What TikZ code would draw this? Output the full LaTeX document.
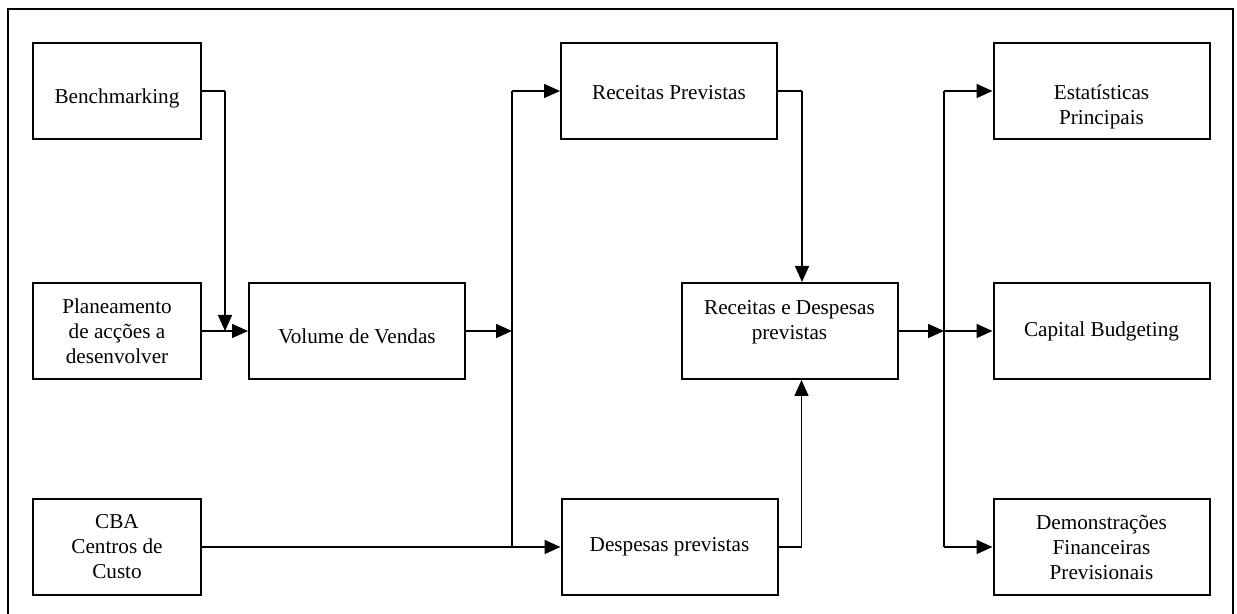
\documentclass[tikz,border=0pt]{standalone}
\usepackage{fontspec}
\setmainfont{Liberation Serif}
\usetikzlibrary{arrows.meta,calc}

\begin{document}
\begin{tikzpicture}[x=0.5pt,y=-0.5pt,
  box/.style={draw, line width=1pt, rectangle, inner sep=0pt,
    minimum width=108pt, minimum height=48pt},
  narrow/.style={minimum width=84pt},
  every label/.style={align=center, font=\fontsize{10.6}{12.5}\selectfont, inner sep=0pt},
  link/.style={line width=0.75pt},
  arr/.style={link, -{Triangle[length=8pt,width=7pt]}}
]
\clip (0,0) rectangle (1237,614);
\fill[white] (0,0) rectangle (1237,614);

% outer frame
\draw[line width=1pt] (8,9) rectangle (1233,640);

% left column
\node[box, narrow, label={[yshift=-3.5pt]center:Benchmarking}] (bench) at (117,91) {};
\node[box, narrow, label={center:Planeamento\\de acções a\\desenvolver}] (plan) at (117,331) {};
\node[box, narrow, label={center:CBA\\Centros de\\Custo}] (cba) at (117,547) {};

% middle
\node[box, label={[yshift=-2.5pt]center:Volume de Vendas}] (vol) at (357,331) {};
\node[box, label={[yshift=-0.75pt]center:Receitas Previstas}] (rp) at (669,91) {};
\node[box, label={center:Despesas previstas}] (desp) at (669.5,547) {};
\node[box, label={[yshift=4.25pt]center:Receitas e Despesas\\previstas}] (rdp) at (789.5,331) {};

% right column
\node[box, label={[yshift=-7.75pt]center:Estatísticas\\Principais}] (est) at (1101.5,91) {};
\node[box, label={center:Capital Budgeting}] (cap) at (1101.5,331) {};
\node[box, label={center:Demonstrações\\Financeiras\\Previsionais}] (dem) at (1101.5,547) {};

% junction points
\coordinate (j1) at ($(plan.east)!0.5!(vol.west)$);
\coordinate (j2) at (512,331);
\coordinate (j3) at (944,331);

% inputs to sales volume
\draw[link] (bench.east) -- (bench.east -| j1) coordinate (b1);
\draw[arr] (b1) -- (j1);
\draw[arr] (plan.east) -- (vol.west);

% sales volume distribution
\draw[arr] (vol.east) -- (j2);
\draw[link] (j2 |- rp.west) -- (j2 |- desp.west);
\draw[arr] (j2 |- rp.west) -- (rp.west);
\draw[arr] (cba.east) -- (desp.west);

% revenues and expenses combined
\draw[link] (rp.east) -- ++(24,0) coordinate (k1);
\draw[arr] (k1) -- (k1 |- rdp.north);
\draw[link] (desp.east) -- ++(23,0) coordinate (k2);
\draw[arr] (k2) -- (k2 |- rdp.south);

% outputs
\draw[arr] (rdp.east) -- (j3);
\draw[link] (j3 |- est.west) -- (j3 |- dem.west);
\draw[arr] (j3 |- est.west) -- (est.west);
\draw[arr] (j3) -- (cap.west);
\draw[arr] (j3 |- dem.west) -- (dem.west);
\end{tikzpicture}
\end{document}
